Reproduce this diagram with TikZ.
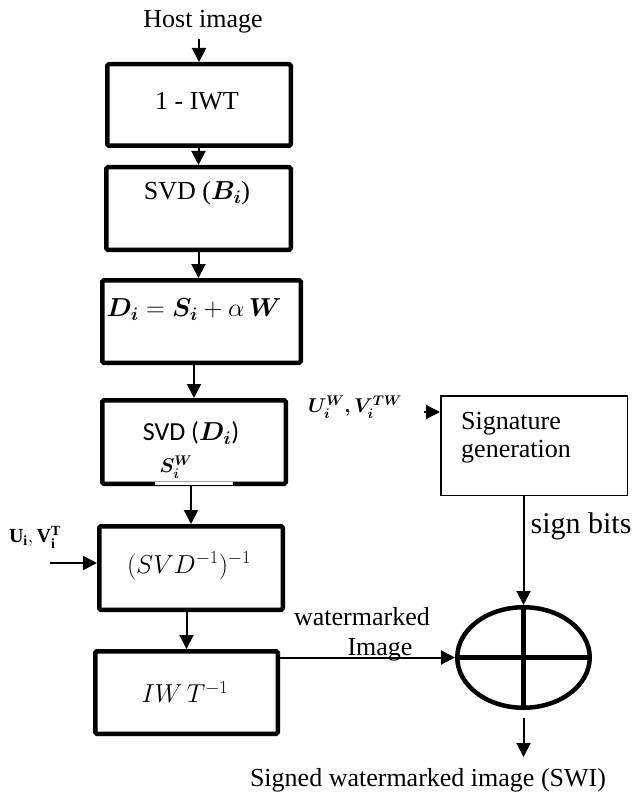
\RequirePackage{fix-cm}
\documentclass[tikz,border=0pt]{standalone}
\usepackage{fontspec}
\setmainfont{Liberation Serif}
\newfontfamily\calib{Carlito}
\usepackage{amsmath,bm}
\usetikzlibrary{arrows.meta,shapes.geometric}
\tikzset{
  thickbox/.style={draw, line width=4.5pt, rounded corners=1.5pt, inner sep=0pt},
  thinbox/.style={draw, line width=1.5pt, inner sep=0pt},
  arr/.style={line width=2pt, -{Triangle[length=14pt,width=14pt]}},
  lbl/.style={font=\fontsize{26}{29}\selectfont, inner sep=0pt},
  lblbig/.style={font=\fontsize{30}{34}\selectfont, inner sep=0pt},
  lblsmall/.style={font=\fontsize{20}{24}\selectfont, inner sep=0pt},
}
\begin{document}
\begin{tikzpicture}[x=1pt,y=-1pt]
\useasboundingbox (0,0) rectangle (639,794);

% boxes
\node[thickbox, minimum width=183.5pt, minimum height=81.5pt] (b1) at (199,105) {};
\node[lbl] (t1) at (197,101) {1 - IWT};
\node[thickbox, minimum width=184.5pt, minimum height=82.5pt] (b2) at (198.5,208.5) {};
\node[lbl] (t2) at (197,193) {SVD ($\bm{B_i}$)};
\node[thickbox, minimum width=198.5pt, minimum height=82.5pt] (b3) at (201.5,321.5) {};
\node[lbl] (t3) at (194,310) {$\bm{D_i} = \bm{S_i} + \alpha\,\bm{W}$};
\node[thickbox, minimum width=183.5pt, minimum height=83.5pt] (b4) at (194,442) {};
\node[lbl] (t4a) at (191,433) {\calib SVD ($\bm{D_i}$)};
\node[lblsmall] (t4b) at (176,467) {$\bm{S_i^W}$};
\fill[white] (155,482) rectangle (233,484.5);
\node[thickbox, minimum width=183.5pt, minimum height=83.5pt] (b5) at (191,568) {};
\node[lbl] (t5) at (189,566) {$(SVD^{-1})^{-1}$};
\node[thickbox, minimum width=182.5pt, minimum height=82.5pt] (b6) at (186.5,692.5) {};
\node[lbl] (t6) at (185,692) {$IW\,T^{-1}$};
\node[thinbox, minimum width=186.5pt, minimum height=99.5pt] (sig) at (534,445.5) {};
\node[lbl, anchor=west, align=left, font=\fontsize{26}{28}\selectfont] (t7) at (461,438) {Signature\\generation};

% adder
\node[ellipse, draw, line width=4.5pt, minimum width=132.5pt, minimum height=100.5pt, inner sep=0pt] (ell) at (523.5,657.5) {};
\draw[line width=4.5pt] (ell.north) -- (ell.south);
\draw[line width=4.5pt] (ell.west) -- (ell.east);

% labels
\node[lbl] (host) at (203,22) {Host image};
\node[lblsmall] (uv) at (35,537) {$\mathbf{U_i, V_i^T}$};
\node[lblsmall] (uw) at (355,407) {$\bm{U_i^W, V_i^{TW}}$};
\node[lblbig] (sb) at (581,526) {sign bits};
\node[lbl] (wm) at (362,617) {watermarked};
\node[lbl] (im) at (380,650) {Image};
\node[lbl] (swi) at (428,780) {Signed watermarked image (SWI)};

% connectors
\draw[arr, shorten <=5pt] (host.south -| b1.north) -- (b1.north);
\draw[arr] (b1.south -| b2.north) -- (b2.north);
\draw[arr] (b2.south) -- (b2.south |- b3.north);
\draw[arr] (b3.south -| b4.north) -- (b4.north);
\draw[arr] (b4.south -| b5.north) -- (b5.north);
\draw[arr] (b5.south -| b6.north) -- (b6.north);
\coordinate (uvs) at (50,563);
\draw[arr] (uvs) -- (uvs -| b5.west);
\coordinate (uwa) at (424,412);
\draw[arr] (uwa) -- (uwa -| sig.west);
\draw[arr] (sig.south -| ell.north) -- (ell.north);
\draw[arr] (ell.west -| b6.east) -- (ell.west);
\coordinate (oend) at (523.5,757);
\draw[arr, shorten <=8pt] (ell.south) -- (oend);
\end{tikzpicture}
\end{document}
